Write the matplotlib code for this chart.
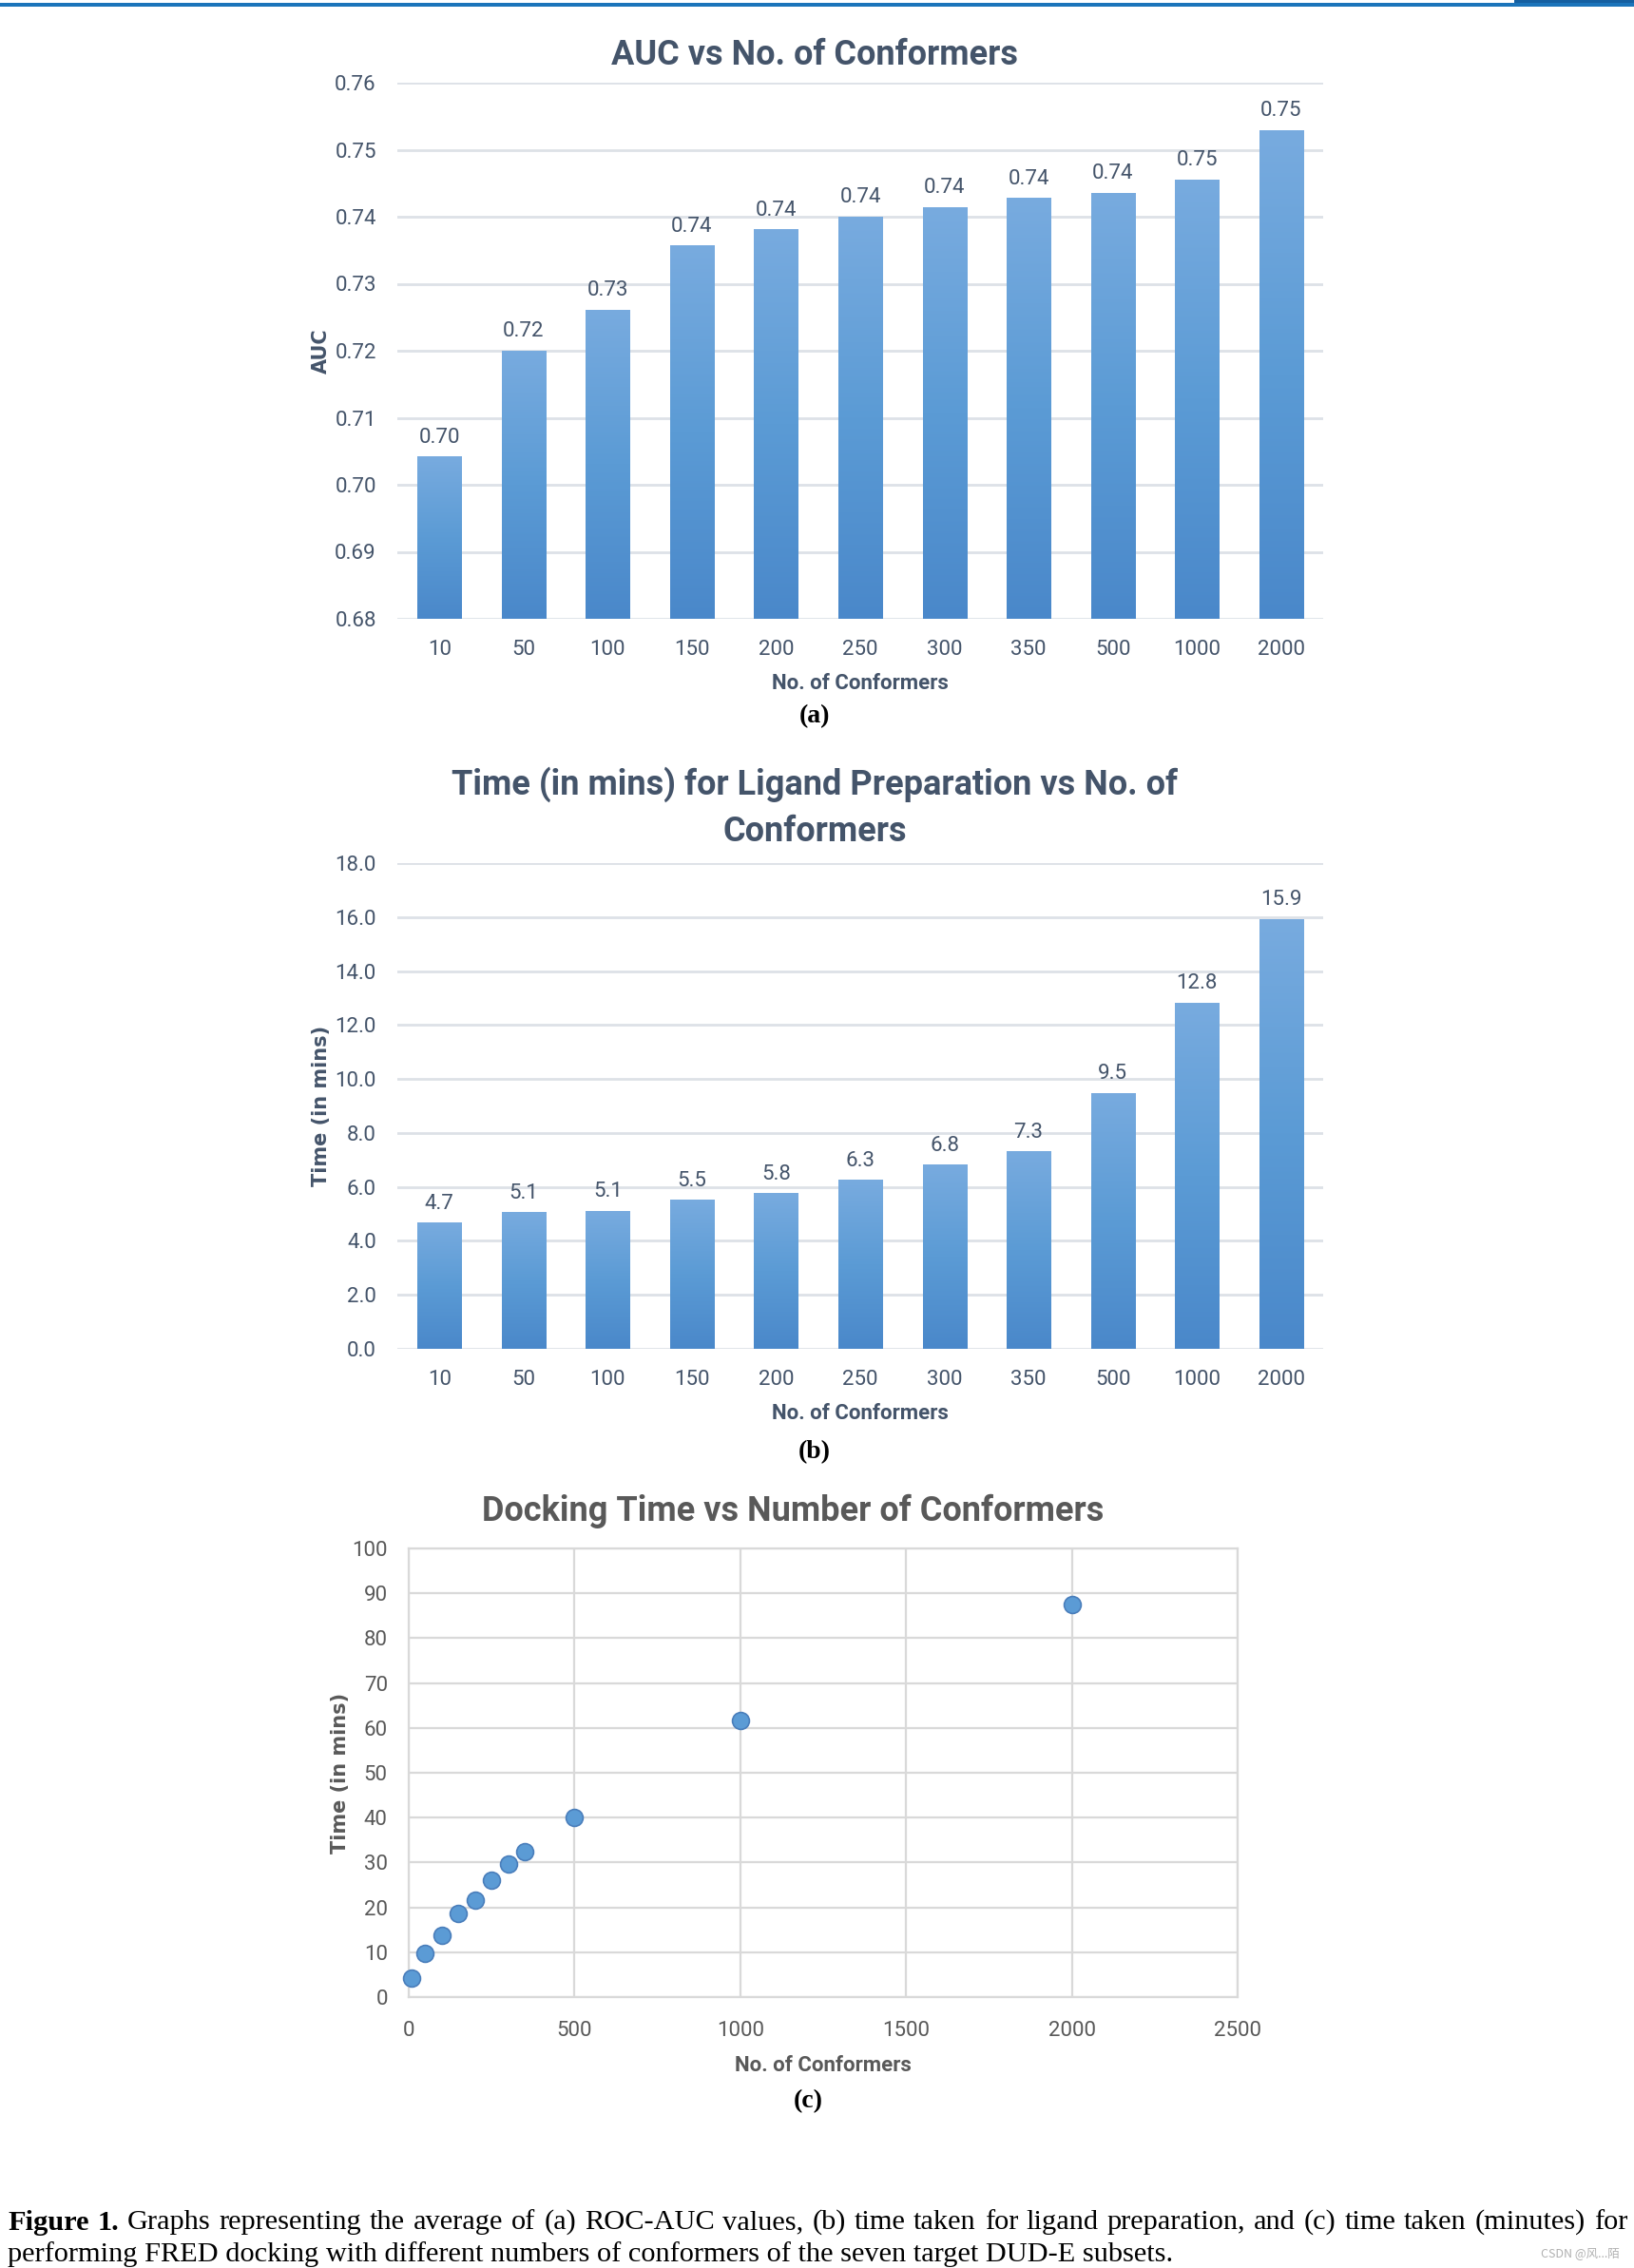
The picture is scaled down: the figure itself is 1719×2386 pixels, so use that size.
import numpy as np
import matplotlib.pyplot as plt
from matplotlib import font_manager
from matplotlib.colors import LinearSegmentedColormap
from matplotlib.patches import Rectangle

# datos
conformers = ['10', '50', '100', '150', '200', '250', '300', '350', '500', '1000', '2000']
auc_values = [0.7042, 0.7200, 0.7261, 0.7357, 0.7381, 0.7400, 0.7414, 0.7428, 0.7436, 0.7456, 0.7529]
prep_time = [4.67, 5.06, 5.10, 5.52, 5.76, 6.26, 6.82, 7.31, 9.49, 12.82, 15.93]
dock_x = [10, 50, 100, 150, 200, 250, 300, 350, 500, 1000, 2000]
dock_time = [4.3, 9.8, 13.8, 18.7, 21.7, 26.0, 29.6, 32.4, 40.1, 61.7, 87.5]

caption_1 = ("Figure 1. Graphs representing the average of (a) ROC-AUC values, (b) time taken "
             "for ligand preparation, and (c) time taken (minutes) for")
caption_2 = "performing FRED docking with different numbers of conformers of the seven target DUD-E subsets."

W, H = 1719, 2386


def fx(px):
    return px / W


def fy(py):
    return 1 - py / H


names = {f.name for f in font_manager.fontManager.ttflist}
sans = 'Liberation Sans Narrow' if 'Liberation Sans Narrow' in names else 'Roboto'
plt.rcParams['font.family'] = [sans, 'DejaVu Sans']

slate = '#44546A'
gray = '#595959'
bar_cmap = LinearSegmentedColormap.from_list('bar', ['#4A88CA', '#5B9BD5', '#78ABDF'])

fig = plt.figure(figsize=(W / 100, H / 100), dpi=100)


def bar_panel(rect, values, ylim, yticks, tick_fmt, lab_fmt, ylabel):
    ax = fig.add_axes(rect)
    x = np.arange(len(conformers))
    bars = ax.bar(x, values, width=0.52, color='#5B9BD5', zorder=2)
    grad = np.linspace(0, 1, 256).reshape(-1, 1)
    for b in bars:
        im = ax.imshow(grad, extent=[b.get_x(), b.get_x() + b.get_width(), ylim[0], b.get_height()],
                       aspect='auto', cmap=bar_cmap, origin='lower', zorder=3)
        im.set_clip_path(b)
    for i, v in enumerate(values):
        ax.annotate(lab_fmt.format(v), (i, v), xytext=(0, 7), textcoords='offset points',
                    ha='center', va='bottom', fontsize=16, color=slate, zorder=4)
    ax.set_xlim(-0.5, 10.5)
    ax.set_ylim(*ylim)
    ax.set_yticks(yticks)
    ax.set_yticklabels([tick_fmt.format(t) for t in yticks])
    ax.set_xticks(x)
    ax.set_xticklabels(conformers)
    ax.grid(axis='y', color='#DDE1E7', linewidth=2, zorder=0)
    ax.set_axisbelow(True)
    for s in ax.spines.values():
        s.set_visible(False)
    ax.tick_params(length=0, labelsize=16, labelcolor=slate)
    ax.tick_params(axis='y', pad=16)
    ax.tick_params(axis='x', pad=16)
    ax.set_xlabel('No. of Conformers', fontsize=16, color=slate, weight='bold', labelpad=10)
    ax.set_ylabel(ylabel, fontsize=15, color=slate, weight='bold', family='DejaVu Sans', labelpad=3)
    return ax


# (a) AUC
ax_a = bar_panel([fx(418), fy(651), fx(1392) - fx(418), (651 - 87) / H],
                 auc_values, (0.68, 0.76), np.arange(0.68, 0.7601, 0.01),
                 '{:.2f}', '{:.2f}', 'AUC')
fig.text(fx(857), fy(58), 'AUC vs No. of Conformers', ha='center', va='center',
         fontsize=26, weight='bold', color=slate)
fig.text(fx(857), fy(754), '(a)', ha='center', va='center', fontsize=20,
         weight='bold', family='Liberation Serif', color='black')

# (b) tiempo de preparacion
ax_b = bar_panel([fx(418), fy(1419), fx(1392) - fx(418), (1419 - 908) / H],
                 prep_time, (0, 18), np.arange(0, 18.01, 2.0),
                 '{:.1f}', '{:.1f}', 'Time (in mins)')
fig.text(fx(857), fy(850), 'Time (in mins) for Ligand Preparation vs No. of\nConformers',
         ha='center', va='center', fontsize=26, weight='bold', color=slate, linespacing=1.45)
fig.text(fx(857), fy(1528), '(b)', ha='center', va='center', fontsize=20,
         weight='bold', family='Liberation Serif', color='black')

# (c) docking
ax_c = fig.add_axes([fx(430), fy(2101), fx(1302) - fx(430), (2101 - 1629) / H])
ax_c.scatter(dock_x, dock_time, s=165, c='#5B9BD5', edgecolors='#4A7EBB', linewidths=1.2,
             zorder=3, clip_on=False)
ax_c.set_xlim(0, 2500)
ax_c.set_ylim(0, 100)
ax_c.set_xticks(np.arange(0, 2501, 500))
ax_c.set_yticks(np.arange(0, 101, 10))
ax_c.grid(True, color='#D9D9D9', linewidth=1.6, zorder=0)
ax_c.set_axisbelow(True)
for s in ax_c.spines.values():
    s.set_color('#D9D9D9')
    s.set_linewidth(1.6)
ax_c.tick_params(length=0, labelsize=16, labelcolor=gray)
ax_c.tick_params(axis='y', pad=16)
ax_c.tick_params(axis='x', pad=18)
ax_c.set_xlabel('No. of Conformers', fontsize=16, color=gray, weight='bold', labelpad=11)
ax_c.set_ylabel('Time (in mins)', fontsize=15, color=gray, weight='bold', family='DejaVu Sans',
                labelpad=2)
fig.text(fx(834), fy(1590), 'Docking Time vs Number of Conformers', ha='center', va='center',
         fontsize=26, weight='bold', color=gray)
fig.text(fx(850), fy(2211), '(c)', ha='center', va='center', fontsize=20,
         weight='bold', family='Liberation Serif', color='black')

# barra azul superior
fig.add_artist(Rectangle((0, fy(7)), 1, 4 / H, transform=fig.transFigure,
                         color='#1B74BA', lw=0))
fig.add_artist(Rectangle((fx(1593), fy(3)), fx(W) - fx(1593), 3 / H, transform=fig.transFigure,
                         color='#155FA0', lw=0))

# pie de figura: tamaño ajustado para que la primera linea llene el ancho
renderer = fig.canvas.get_renderer()
probe = fig.text(0, 0, caption_1, fontsize=20, family='Liberation Serif')
cap_size = 20 * (1704 / probe.get_window_extent(renderer).width) * 0.985
probe.remove()

words = caption_1.split(' ')
texts = []
for i, w in enumerate(words):
    t = fig.text(0, fy(2338), w, fontsize=cap_size, family='Liberation Serif',
                 weight='bold' if i < 2 else 'normal', va='center', ha='left')
    texts.append(t)
widths = [t.get_window_extent(renderer).width for t in texts]
gap = (1712 - 8 - sum(widths)) / (len(words) - 1)
xpos = 8
for t, w in zip(texts, widths):
    t.set_x(fx(xpos))
    xpos += w + gap
fig.text(fx(8), fy(2372), caption_2, fontsize=cap_size, family='Liberation Serif',
         va='center', ha='left')

fig.text(fx(1704), fy(2372), 'CSDN @风...陌', fontsize=9, color='#B0B0B0', ha='right', va='center',
         family=['Noto Sans CJK SC', 'DejaVu Sans'])

fig.savefig('out.png', dpi=100)
